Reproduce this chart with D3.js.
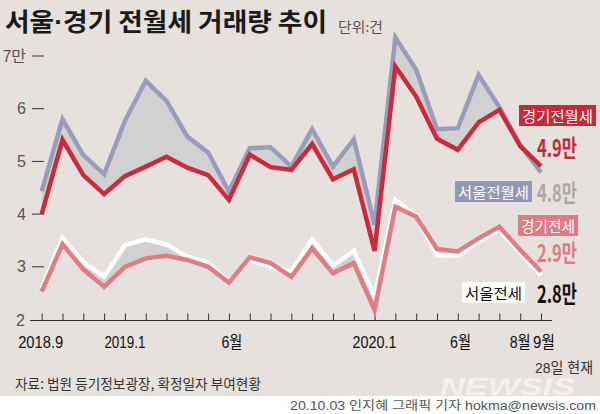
<!DOCTYPE html>
<html><head><meta charset="utf-8">
<script src="https://cdn.jsdelivr.net/npm/d3@7"></script>
<style>
html,body{margin:0;padding:0;background:#fff;}
svg{display:block;}
text{font-family:"Liberation Sans","Roboto","Noto Sans CJK KR",sans-serif;}
.kr{font-family:"Noto Sans CJK KR",sans-serif;}
</style></head>
<body>
<script>
// ---- data (단위: 만 건) ----
const months = ["2018.9","2018.10","2018.11","2018.12","2019.1","2019.2","2019.3","2019.4","2019.5","2019.6","2019.7","2019.8","2019.9","2019.10","2019.11","2019.12","2020.1","2020.2","2020.3","2020.4","2020.5","2020.6","2020.7","2020.8","2020.9"];
const seoulWolse    = [4.43,5.80,5.12,4.76,5.77,6.53,6.15,5.47,5.17,4.43,5.25,5.27,4.90,5.61,4.90,5.42,3.80,7.35,6.74,5.61,5.63,6.64,6.03,5.31,4.79];
const gyeonggiWolse = [4.00,5.41,4.74,4.38,4.72,4.90,5.09,4.88,4.74,4.27,5.13,4.89,4.84,5.33,4.66,4.85,3.30,6.80,6.23,5.43,5.22,5.74,5.98,5.29,4.91];
const seoulJeonse   = [2.60,3.54,3.09,2.81,3.41,3.52,3.42,3.19,3.08,2.72,3.13,3.00,2.91,3.52,3.02,3.30,2.43,4.27,3.97,3.22,3.21,3.48,3.70,3.26,2.84];
const gyeonggiJeonse= [2.53,3.43,2.95,2.62,3.00,3.16,3.21,3.13,3.00,2.70,3.18,3.07,2.81,3.35,2.88,3.07,2.18,4.14,3.95,3.34,3.29,3.54,3.76,3.32,2.91];
const yTicks = [3,4,5,6,7];
const yTickLabels = ["3","4","5","6","7만"];
const xTickLabels = [
  {m:"2018.9", t:"2018.9", dx:-1, w:45},
  {m:"2019.1", t:"2019.1", dx:0, w:41},
  {m:"2019.6", t:"6월", dx:3, w:21},
  {m:"2020.1", t:"2020.1", dx:0, w:44},
  {m:"2020.6", t:"6월", dx:-18, w:21},
  {m:"2020.8", t:"8월", dx:0, w:21},
  {m:"2020.9", t:"9월", dx:3, w:22}
];
const legend = [
  {name:"경기전월세", val:"4.9만", box:"#c8283c", txt:"#fff", valColor:"#c8283c", bx:519, by:105, bw:77, vy:157},
  {name:"서울전월세", val:"4.8만", box:"#9497b5", txt:"#fff", valColor:"#a9a9a9", bx:455, by:181, bw:77, vy:202},
  {name:"경기전세",   val:"2.9만", box:"#e07a84", txt:"#fff", valColor:"#e07a84", bx:518, by:215, bw:60, vy:262},
  {name:"서울전세",   val:"2.8만", box:"#ffffff", txt:"#111", valColor:"#111", bx:462, by:282, bw:63, vy:303}
];

const W=600,H=414;
const svg=d3.select("body").append("svg").attr("width",W).attr("height",H);
svg.append("rect").attr("width",W).attr("height",396).attr("fill","#e6e1dd");
svg.append("rect").attr("y",396).attr("width",W).attr("height",18).attr("fill","#ffffff");

const x=d3.scalePoint().domain(months).range([41.7,541]);
const y=d3.scaleLinear().domain([2,7]).range([319.5,56]);

// title
const title=svg.append("text").attr("class","kr").attr("x",5).attr("y",31).attr("font-size",25).attr("font-weight",700)
  .attr("fill","#1a1a1a").attr("textLength",322).attr("lengthAdjust","spacingAndGlyphs");
title.append("tspan").text("서울");
title.append("tspan").attr("style","font-family:'Liberation Sans',sans-serif").text("·");
title.append("tspan").text("경기 전월세 거래량 추이");
svg.append("text").attr("class","kr").attr("x",338).attr("y",32).attr("font-size",13.5).attr("fill","#555")
  .attr("textLength",45).attr("lengthAdjust","spacingAndGlyphs").text("단위:건");

// y axis tick dashes + labels
const gy=svg.append("g");
yTicks.forEach((v,i)=>{
  gy.append("line").attr("x1",32).attr("x2",44).attr("y1",y(v)).attr("y2",y(v)).attr("stroke","#333").attr("stroke-width",1);
  gy.append("text").attr("x",26).attr("y",y(v)+5.5).attr("text-anchor","end").attr("font-size",16).attr("fill","#555").text(yTickLabels[i]);
});
gy.append("text").attr("x",25).attr("y",y(2)+6).attr("text-anchor","end").attr("font-size",16).attr("fill","#555").text("2");

// x axis
const axisY=320.5;
const xAxis=d3.axisTop(x).tickSize(7).tickFormat("");
const gx=svg.append("g").attr("transform",`translate(0,${axisY})`).call(xAxis);
gx.select(".domain").remove();
gx.selectAll(".tick line").attr("stroke","#333");
svg.append("line").attr("x1",30).attr("x2",552).attr("y1",axisY).attr("y2",axisY).attr("stroke","#333");
xTickLabels.forEach(d=>{
  svg.append("text").attr("x",x(d.m)+d.dx).attr("y",348).attr("text-anchor","middle").attr("font-size",17)
    .attr("fill","#111").attr("textLength",d.w).attr("lengthAdjust","spacingAndGlyphs").text(d.t);
});
svg.append("text").attr("x",593).attr("y",373).attr("text-anchor","end").attr("font-size",14.5).attr("fill","#333")
  .attr("textLength",58).attr("lengthAdjust","spacingAndGlyphs").text("28일 현재");

// areas between lines
const idx=d3.range(months.length);
const area=(a,b)=>d3.area().x(i=>x(months[i])).y0(i=>y(a[i])).y1(i=>y(b[i]));
svg.append("path").datum(idx).attr("d",area(gyeonggiWolse,seoulWolse)).attr("fill","#d2d1d1");
svg.append("path").datum(idx).attr("d",area(gyeonggiJeonse,seoulJeonse)).attr("fill","#d2d1d1");

const line=(a)=>d3.line().x(i=>x(months[i])).y(i=>y(a[i]));
const drawLine=(a,c)=>svg.append("path").datum(idx).attr("d",line(a)).attr("fill","none").attr("stroke",c)
  .attr("stroke-width",4.5).attr("stroke-linejoin","miter").attr("stroke-linecap","butt");
drawLine(seoulWolse,"#9a9db9");
drawLine(gyeonggiWolse,"#cc2a3c");
drawLine(seoulJeonse,"#ffffff");
drawLine(gyeonggiJeonse,"#e07c86");

// legend labels
legend.forEach(d=>{
  svg.append("rect").attr("x",d.bx).attr("y",d.by).attr("width",d.bw).attr("height",21).attr("fill",d.box);
  svg.append("text").attr("class","kr").attr("x",d.bx+d.bw/2).attr("y",d.by+16.5).attr("text-anchor","middle")
    .attr("font-size",15).attr("fill",d.txt).attr("textLength",d.bw-6).attr("lengthAdjust","spacingAndGlyphs").text(d.name);
  svg.append("text").attr("class","kr").attr("x",537).attr("y",d.vy).attr("font-size",24)
    .attr("font-weight",700).attr("fill",d.valColor).attr("textLength",40).attr("lengthAdjust","spacingAndGlyphs").text(d.val);
});

// source & credit
svg.append("text").attr("class","kr").attr("x",15).attr("y",389).attr("font-size",14).attr("fill","#333")
  .attr("textLength",246).attr("lengthAdjust","spacingAndGlyphs").text("자료: 법원 등기정보광장, 확정일자 부여현황");
svg.append("text").attr("x",440).attr("y",395).attr("font-size",24).attr("font-weight",700).attr("font-style","italic")
  .attr("fill","#ffffff").attr("opacity",0.55).attr("textLength",135).attr("lengthAdjust","spacingAndGlyphs").text("NEWSIS");
svg.append("text").attr("x",596).attr("y",410).attr("text-anchor","end").attr("font-size",12).attr("fill","#555")
  .attr("textLength",306).attr("lengthAdjust","spacingAndGlyphs").text("20.10.03 인지혜 그래픽 기자 hokma@newsis.com");
</script>
</body></html>
